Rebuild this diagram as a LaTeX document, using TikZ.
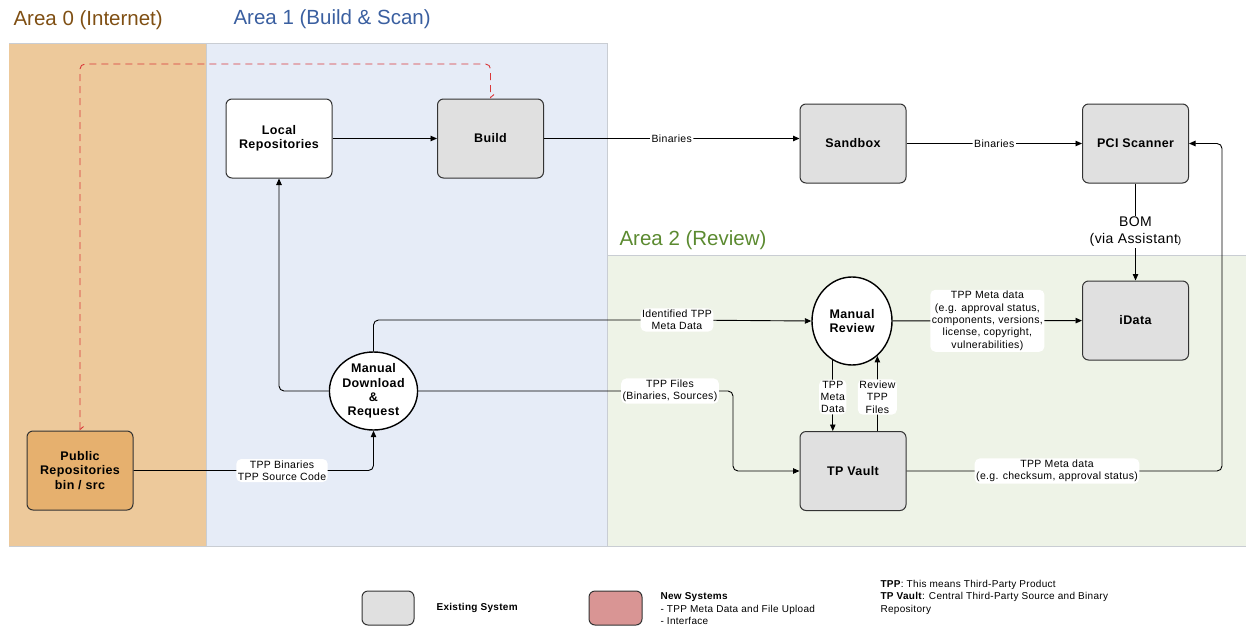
\documentclass[tikz,border=0pt]{standalone}
\usepackage{fontspec}
\setmainfont{Liberation Sans}[LetterSpace=3]
\newfontfamily\titlefont{Liberation Sans}
\usetikzlibrary{arrows.meta,shapes.geometric}
\definecolor{areaZero}{HTML}{EDC99B}
\definecolor{areaOne}{HTML}{E6ECF7}
\definecolor{areaTwo}{HTML}{EEF3E7}
\definecolor{areaLine}{HTML}{C9CDD3}
\definecolor{titleZero}{HTML}{7F4F13}
\definecolor{titleOne}{HTML}{3A5FA0}
\definecolor{titleTwo}{HTML}{5B8A30}
\definecolor{sysGray}{HTML}{E0E0E0}
\definecolor{pubFill}{HTML}{E6B06E}
\definecolor{newFill}{HTML}{D99594}
\definecolor{dashRed}{HTML}{D9383A}
\definecolor{edgeDark}{HTML}{333333}
\tikzset{
  area/.style={draw=areaLine, line width=0.8pt},
  sysbox/.style={draw=edgeDark, line width=1pt, rounded corners=6pt, minimum width=106pt, minimum height=79pt,
    align=center, font=\fontsize{12.5}{14.5}\selectfont\bfseries, fill=sysGray},
  procell/.style={ellipse, draw=black, line width=1.4pt, fill=white, inner sep=0pt, align=center,
    font=\fontsize{12.5}{14.3}\selectfont\bfseries},
  conn/.style={draw=black, line width=0.9pt, rounded corners=5pt, -{Triangle[length=6.5pt,width=5.5pt]}},
  lbl/.style={fill=white, inner sep=1.5pt, align=center, font=\fontsize{10.5}{12.3}\selectfont},
  areatitle/.style={anchor=west, font=\titlefont\fontsize{20.5}{24}\selectfont},
  legtext/.style={anchor=west, align=left, font=\fontsize{10}{12.5}\selectfont},
}
\begin{document}
\begin{tikzpicture}[x=1pt,y=-1pt]
\useasboundingbox (0,0) rectangle (1246,626);
% areas
\fill[areaZero] (9,43) rectangle (206,546);
\filldraw[area, fill=areaOne] (206,43) rectangle (607,546);
\filldraw[area, fill=areaTwo] (607,255) rectangle (1246,546);
\draw[area] (9,43) -- (206,43);
\draw[area] (9,546) -- (206,546);
\node[areatitle, text=titleZero] (t0) at (10,20) {Area 0 (Internet)};
\node[areatitle, text=titleOne] (t1) at (230,19) {Area 1 (Build \& Scan)};
\node[areatitle, text=titleTwo] (t2) at (616,240) {Area 2 (Review)};

% nodes
\node[sysbox, fill=white] (local) at (279,138.5) {Local\\Repositories};
\node[sysbox] (build) at (490.5,138.5) {Build};
\node[sysbox] (sandbox) at (853,143.5) {Sandbox};
\node[sysbox] (pci) at (1135.5,143.5) {PCI Scanner};
\node[sysbox] (idata) at (1135.5,320.5) {iData};
\node[sysbox] (vault) at (853,471) {TP Vault};
\node[sysbox, fill=pubFill] (public) at (80,470.5) {Public\\Repositories\\bin / src};
\node[procell, minimum width=80pt, minimum height=88pt] (mreview) at (852,321) {Manual\\Review};
\node[procell, minimum width=81pt, minimum height=78pt] (mdl) at (373.5,391) {Manual\\Download\\\&\\Request};

% connectors
\draw[conn] (local) -- (build);
\draw[conn] (build.east) -- node[lbl]{Binaries} (build.east -| sandbox.west);
\draw[conn] (sandbox) -- node[lbl]{Binaries} (pci);
\draw[conn] (pci) -- node[lbl, font=\fontsize{14}{17}\selectfont, inner sep=1pt]{BOM\\(via Assistant{\fontsize{10}{12}\selectfont)}} (idata);
\draw[conn] (mreview) -- node[lbl]{TPP Meta data\\(e.g. approval status,\\components, versions,\\license, copyright,\\vulnerabilities)} (idata);
\draw[conn] (mdl.west) -| (local.south);
\draw[conn] (mdl.north) |- (677,320) node[lbl]{Identified TPP\\Meta Data} -- (mreview.west);
\draw[conn] (mdl.east) -- (670,391) node[lbl]{TPP Files\\(Binaries, Sources)} -- (733,391) |- (vault.west);
\draw[conn] (public.east) -- (282,470.5) node[lbl]{TPP Binaries\\TPP Source Code} -| (mdl.south);
\draw[conn] (mreview.244) -- (mreview.244 |- 0,397) node[lbl]{TPP\\Meta\\Data} -- (mreview.244 |- vault.north);
\draw[conn] (vault.north -| mreview.306) -- (mreview.306 |- 0,397) node[lbl]{Review\\TPP\\Files} -- (mreview.306);
\draw[conn] (vault.east) -- (1057,471) node[lbl]{TPP Meta data\\(e.g. checksum, approval status)} -- (1222,471) |- (pci.east);
\coordinate (dashTurn) at (490.5,64);
\draw[dashRed, line width=0.9pt, dash pattern=on 7pt off 5pt, rounded corners=5pt,
  {Straight Barb[left,length=3pt,width=7pt]}-{Straight Barb[left,length=3pt,width=7pt]}]
  (public.north) |- (dashTurn) -- (build.north);

% legend
\draw[draw=edgeDark, line width=1pt, rounded corners=6pt, fill=sysGray] (362,591) rectangle (414,625);
\node[legtext, font=\fontsize{10}{12.5}\selectfont\bfseries] (legExist) at (433,608) {Existing System};
\draw[draw=edgeDark, line width=1pt, rounded corners=6pt, fill=newFill] (589,591) rectangle (642,625);
\node[legtext] (legNew) at (657,609) {\textbf{New Systems}\\- TPP Meta Data and File Upload\\- Interface};
\node[legtext] (legDef) at (877,597) {\textbf{TPP}: This means Third-Party Product\\\textbf{TP Vault}: Central Third-Party Source and Binary\\Repository};
\end{tikzpicture}
\end{document}
